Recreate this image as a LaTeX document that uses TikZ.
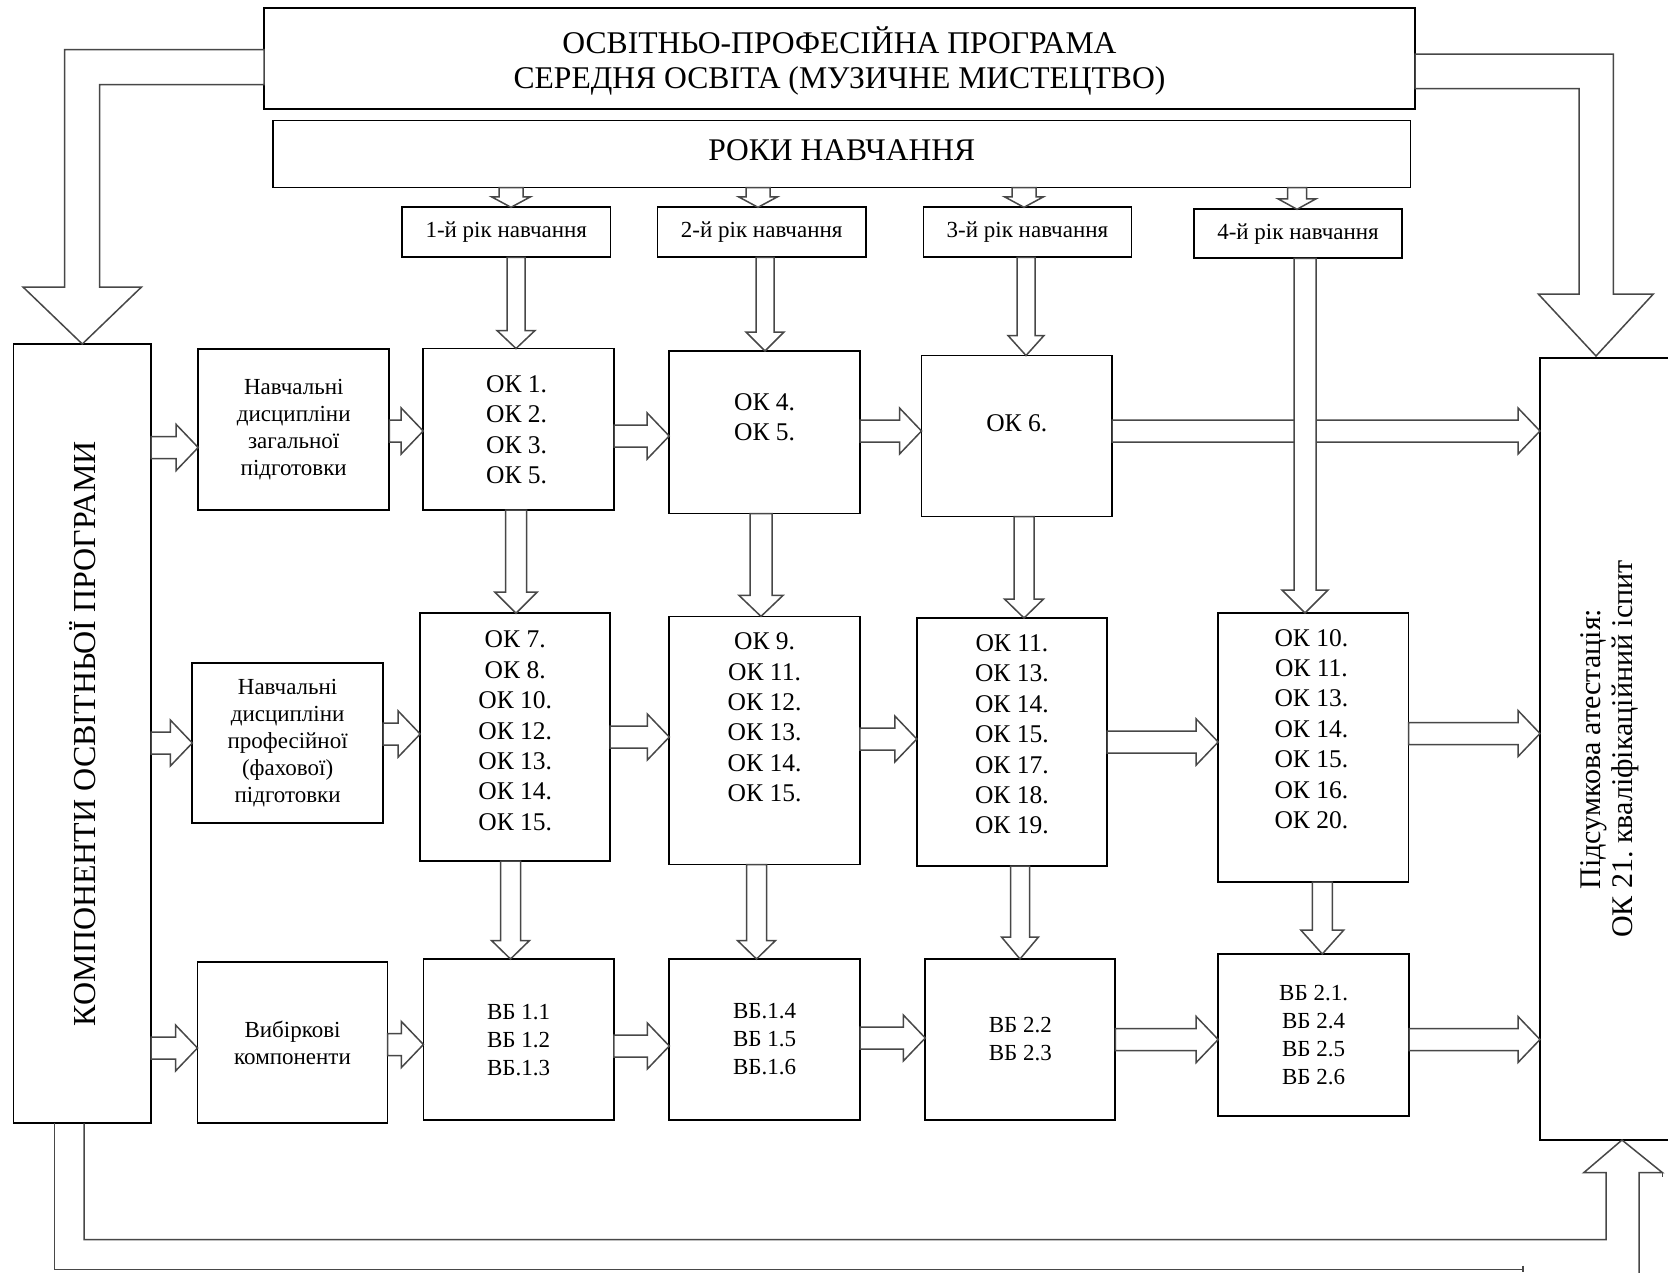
\documentclass[tikz,border=0pt]{standalone}
\usepackage{fontspec}
\setmainfont{Liberation Serif}
\usetikzlibrary{calc}
\frenchspacing
\tikzset{
  box/.style={draw=black, line width=1.7pt, fill=white, inner sep=0pt, outer sep=0pt, anchor=north west, align=center},
  flow/.style={draw=black!72, line width=1.5pt, fill=white, line join=miter},
  tTitle/.style={font=\fontsize{31.6}{35}\selectfont, align=center, inner sep=0pt},
  tRoky/.style={font=\fontsize{31.5}{36}\selectfont, inner sep=0pt},
  tYear/.style={font=\fontsize{23}{26}\selectfont},
  tSide/.style={font=\fontsize{23}{27}\selectfont},
  tOk/.style={font=\fontsize{25.5}{30.4}\selectfont, align=center, inner sep=0pt},
  tVb/.style={font=\fontsize{23}{28}\selectfont},
  tKomp/.style={font=\fontsize{32}{34}\selectfont, inner sep=0pt},
  tBig/.style={font=\fontsize{30}{32}\selectfont, align=center, inner sep=0pt},
}
% box: name, x1, y1, x2, y2, options, text
\newcommand\mkbox[7]{\node[box,#6,minimum width={(#4)-(#2)},minimum height={(#5)-(#3)}] (#1) at (#2,#3) {#7};}
% horizontal hollow arrow: source, target, axis y
\newcommand\harr[3]{\draw[flow] let \p1=(#1.east), \p2=(#2.west), \p3=(0,#3) in
  (\x1,\y3+11pt) -- (\x2-22pt,\y3+11pt) -- (\x2-22pt,\y3+23pt) -- (\x2,\y3) --
  (\x2-22pt,\y3-23pt) -- (\x2-22pt,\y3-11pt) -- (\x1,\y3-11pt) -- cycle;}
% vertical hollow arrow: source, target, axis x, shaft half, head half, head length
\newcommand\varr[6]{\draw[flow] let \p1=(#1.south), \p2=(#2.north), \p3=(#3,0) in
  (\x3-#4pt,\y1) -- (\x3-#4pt,\y2+#6pt) -- (\x3-#5pt,\y2+#6pt) -- (\x3,\y2) --
  (\x3+#5pt,\y2+#6pt) -- (\x3+#4pt,\y2+#6pt) -- (\x3+#4pt,\y1) -- cycle;}

\begin{document}
\begin{tikzpicture}[x=1pt,y=-1pt]
\useasboundingbox (0,0) rectangle (1668,1272);
\clip (0,0) rectangle (1668,1272);
\fill[white] (0,0) rectangle (1668,1272);

% ---------- boxes ----------
\mkbox{top}{264}{8}{1415}{109}{}{}
\mkbox{roky}{273}{120.5}{1410.5}{187.5}{}{}
\mkbox{y1}{402}{207.3}{610.5}{257.3}{tYear}{1-й рік навчання}
\mkbox{y2}{657.4}{207.3}{866}{257.3}{tYear}{2-й рік навчання}
\mkbox{y3}{923.4}{207.3}{1131.5}{257.3}{tYear}{3-й рік навчання}
\mkbox{y4}{1194}{209.3}{1402}{258.3}{tYear}{4-й рік навчання}

\mkbox{komp}{13.6}{344}{151}{1123.3}{}{}
\mkbox{zag}{198.2}{349}{389.3}{510}{tSide}{Навчальні\\дисципліни\\загальної\\підготовки}
\mkbox{prof}{192.3}{663}{383}{823.3}{tSide}{Навчальні\\дисципліни\\професійної\\(фахової)\\підготовки}
\mkbox{vyb}{197.5}{962.3}{387.5}{1123.3}{tSide}{Вибіркові\\компоненти}

\mkbox{ok1}{423.2}{348.5}{614}{510.2}{}{}
\mkbox{ok4}{669.2}{351}{860}{513.5}{}{}
\mkbox{ok6}{921.5}{355.5}{1112}{516.5}{}{}
\mkbox{ok7}{420.2}{613.2}{610.2}{861}{}{}
\mkbox{ok9}{669.3}{616.4}{859.8}{864.6}{}{}
\mkbox{ok11}{916.8}{618}{1107}{866}{}{}
\mkbox{ok10}{1218.2}{613}{1408.6}{882}{}{}

\mkbox{vb1}{423.4}{959}{613.9}{1120.3}{tVb}{ВБ 1.1\\ВБ 1.2\\ВБ.1.3}
\mkbox{vb4}{669.3}{959}{860}{1120}{tVb}{ВБ.1.4\\ВБ 1.5\\ВБ.1.6}
\mkbox{vb22}{925.3}{959}{1115.3}{1120}{tVb}{ВБ 2.2\\ВБ 2.3}
\mkbox{vb21}{1218.2}{954}{1409}{1115.7}{tVb}{ВБ 2.1.\\ВБ 2.4\\ВБ 2.5\\ВБ 2.6}

\mkbox{pids}{1540}{358.3}{1680}{1140}{}{}

% ---------- texts (anchor=base sits on the last line) ----------
\node[tTitle, anchor=base] (toptext) at ($(top.north)+(0,80.3)$) {ОСВІТНЬО-ПРОФЕСІЙНА ПРОГРАМА\\СЕРЕДНЯ ОСВІТА (МУЗИЧНЕ МИСТЕЦТВО)};
\node[tRoky, anchor=base] (rokyt) at ($(roky.north)+(0,39.5)$) {РОКИ НАВЧАННЯ};
\node[tKomp, rotate=90] (kompt) at (komp.center) {КОМПОНЕНТИ ОСВІТНЬОЇ ПРОГРАМИ};
\node[tBig, rotate=90] (pidst) at (pids.center) {Підсумкова атестація:\\ОК 21. кваліфікаційний іспит};

\node[tOk, anchor=base] (ok1t) at ($(ok1.north)+(-2,135.2)$) {ОК 1.\\ОК 2.\\ОК 3.\\ОК 5.};
\node[tOk, anchor=base] (ok4t) at ($(ok4.north)+(0,89.8)$) {ОК 4.\\ОК 5.};
\node[tOk, anchor=base] (ok6t) at ($(ok6.north)+(0,76.3)$) {ОК 6.};
\node[tOk, anchor=base] (ok7t) at ($(ok7.north)+(0,217.1)$) {ОК 7.\\ОК 8.\\ОК 10.\\ОК 12.\\ОК 13.\\ОК 14.\\ОК 15.};
\node[tOk, anchor=base] (ok9t) at ($(ok9.north)+(0,185.2)$) {ОК 9.\\ОК 11.\\ОК 12.\\ОК 13.\\ОК 14.\\ОК 15.};
\node[tOk, anchor=base] (ok11t) at ($(ok11.north)+(0,215.8)$) {ОК 11.\\ОК 13.\\ОК 14.\\ОК 15.\\ОК 17.\\ОК 18.\\ОК 19.};
\node[tOk, anchor=base] (ok10t) at ($(ok10.north)+(-2,215.4)$) {ОК 10.\\ОК 11.\\ОК 13.\\ОК 14.\\ОК 15.\\ОК 16.\\ОК 20.};

% ---------- big arrows from the programme ----------
\coordinate (la) at (64.5,49.5);
\coordinate (lb) at (99.5,84.5);
\draw[flow] (top.west |- la) -- (la) -- (64.5,287) -- (23,287) -- (komp.north) -- (141.5,287) -- (99.5,287) -- (lb) -- (top.west |- lb) -- cycle;
\coordinate (ra) at (1613.3,54);
\coordinate (rb) at (1579,88.7);
\coordinate (rtip) at (1596,356);
\draw[flow] (top.east |- ra) -- (ra) -- (1613.3,294) -- (1653.3,294) -- (rtip) -- (1538.3,294) -- (1579,294) -- (rb) -- (top.east |- rb) -- cycle;

% ---------- small arrows to years ----------
\varr{roky}{y1}{511}{12}{19.5}{10.5}
\varr{roky}{y2}{758}{12}{19.5}{10.5}
\varr{roky}{y3}{1024}{12}{19.5}{10.5}
\varr{roky}{y4}{1297}{9.5}{19}{10.5}

% ---------- vertical arrows ----------
\varr{y1}{ok1}{516}{9}{19}{18}
\varr{y2}{ok4}{765}{9}{19}{19}
\varr{y3}{ok6}{1026}{9}{18}{20}
\varr{ok1}{ok7}{516}{10.5}{21}{21}
\varr{ok4}{ok9}{761}{11}{22}{21}
\varr{ok6}{ok11}{1024}{10}{19.5}{19}
\varr{ok7}{vb1}{510.5}{10}{19}{18.5}
\varr{ok9}{vb4}{756.5}{10}{19}{18.5}
\varr{ok11}{vb22}{1020}{9.5}{18.5}{22}
\varr{ok10}{vb21}{1322.3}{10}{21.5}{24}

% ---------- horizontal arrows ----------
\harr{komp}{zag}{447.5}
\harr{zag}{ok1}{431}
\harr{ok1}{ok4}{436}
\harr{ok4}{ok6}{431}
\harr{ok6}{pids}{431}
\harr{komp}{prof}{743}
\harr{prof}{ok7}{734}
\harr{ok7}{ok9}{737}
\harr{ok9}{ok11}{739}
\harr{ok11}{ok10}{742}
\harr{ok10}{pids}{733.5}
\harr{komp}{vyb}{1048}
\harr{vyb}{vb1}{1044.5}
\harr{vb1}{vb4}{1046}
\harr{vb4}{vb22}{1038}
\harr{vb22}{vb21}{1039.5}
\harr{vb21}{pids}{1039.5}

% long arrow of the 4th year, over the OK6 arrow
\varr{y4}{ok10}{1305}{11}{23}{23}

% ---------- bottom return arrow ----------
\coordinate (bi) at (84,1239.5);
\coordinate (bo) at (54.5,1269.5);
\coordinate (btip) at (1622,1140);
\draw[flow, fill=none] (bi |- komp.south) -- (bi) -- (1606,1239.5) -- (1606,1172.7) -- (1583.7,1172.7) -- (btip) -- (1662.5,1172.7) -- (1639,1172.7) -- (1639,1276);
\draw[flow, fill=none] (1662.5,1172.7) -- (1662.5,1177);
\draw[flow, fill=none] (bo |- komp.south) -- (bo) -- (1523,1269.5);
\draw[flow, fill=none] (1523,1265.5) -- (1523,1272);
\end{tikzpicture}
\end{document}
